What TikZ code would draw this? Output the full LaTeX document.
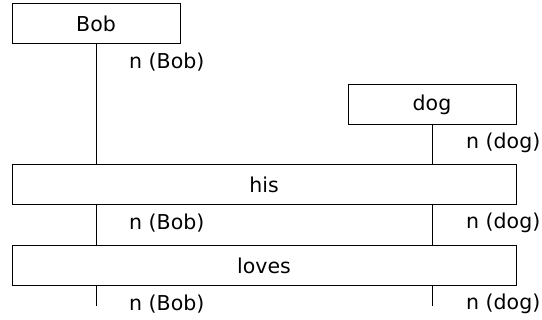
\documentclass[tikz,border=0pt]{standalone}
\usepackage{fontspec}
\setmainfont{DejaVu Sans}
\begin{document}
\begin{tikzpicture}[x=1pt,y=-1pt,
  box/.style={draw,line width=1pt,inner sep=0pt,minimum height=40pt,font=\fontsize{20.5}{24}\selectfont},
  lbl/.style={anchor=west,inner sep=0pt,font=\fontsize{20.5}{24}\selectfont},
  wire/.style={line width=1pt}]
\useasboundingbox (0,0) rectangle (542,320);
\node[box,minimum width=168pt] (bob) at (96,24) {Bob};
\node[box,minimum width=168pt] (dog) at (432,105) {dog};
\node[box,minimum width=504pt] (his) at (264,185) {his};
\node[box,minimum width=504pt] (loves) at (264,266) {loves};
\coordinate (e1) at (96,306);
\coordinate (e2) at (432,306);
\draw[wire] (bob.south) -- (bob.south |- his.north);
\draw[wire] (dog.south) -- (dog.south |- his.north);
\draw[wire] (bob.south |- his.south) -- (bob.south |- loves.north);
\draw[wire] (dog.south |- his.south) -- (dog.south |- loves.north);
\draw[wire] (bob.south |- loves.south) -- (e1);
\draw[wire] (dog.south |- loves.south) -- (e2);
\node[lbl] (l1) at (129,62) {n (Bob)};
\node[lbl] (l2) at (466,143) {n (dog)};
\node[lbl] (l3) at (129,223) {n (Bob)};
\node[lbl] (l4) at (466,223) {n (dog)};
\node[lbl] (l5) at (129,304) {n (Bob)};
\node[lbl] (l6) at (466,304) {n (dog)};
\end{tikzpicture}
\end{document}
